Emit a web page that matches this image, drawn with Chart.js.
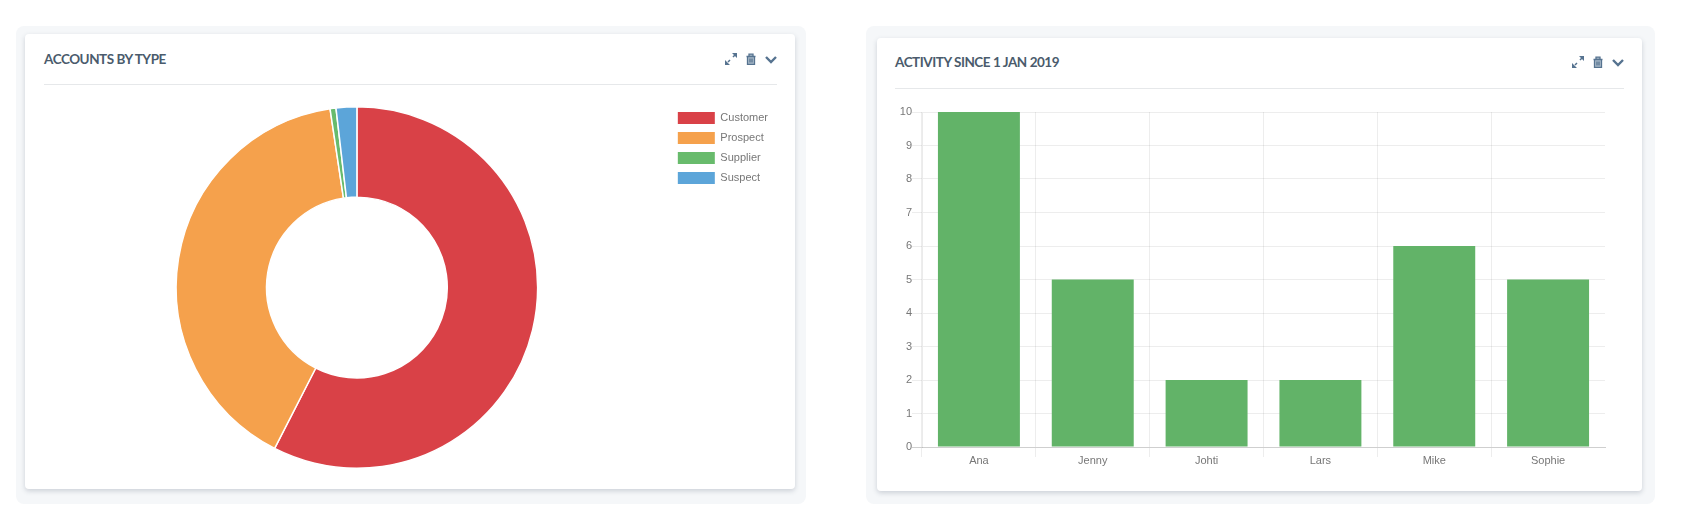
<!DOCTYPE html>
<html>
<head>
<meta charset="utf-8">
<title>Dashboard</title>
<script src="https://cdn.jsdelivr.net/npm/chart.js@4"></script>
<style>
  html, body { margin: 0; padding: 0; background: #fff; }
  body { position: relative; width: 1696px; height: 532px; overflow: hidden; }
  .outer, .card, .rule, h2, canvas, svg { position: absolute; }
  .outer { background: #f5f7f9; border-radius: 8px; }
  .card { background: #fff; border-radius: 4px; box-shadow: 0 2px 5px rgba(60, 75, 95, 0.22); }
  .rule { height: 1px; background: #e6e8ea; }
  h2 {
    margin: 0;
    font: 700 13.5px/16px Lato, sans-serif;
    color: #4a5b6c;
    white-space: nowrap;
    letter-spacing: -0.46px;
  }
  svg { fill: none; stroke: #567390; }
  svg .head { fill: #567390; stroke: none; }
  svg .bin { fill: #a9bac9; }
</style>
</head>
<body>
  <div class="outer" style="left:16px;top:26px;width:790px;height:478px"></div>
  <div class="card" style="left:25px;top:34px;width:770px;height:455px"></div>
  <h2 style="left:44px;top:51px">ACCOUNTS BY TYPE</h2>
  <div class="rule" style="left:44px;top:84px;width:733px"></div>

  <div class="outer" style="left:866px;top:26px;width:789px;height:478px"></div>
  <div class="card" style="left:877px;top:38px;width:765px;height:453px"></div>
  <h2 style="left:895px;top:54px">ACTIVITY SINCE 1 JAN 2019</h2>
  <div class="rule" style="left:895px;top:88px;width:729px"></div>

  <svg style="left:725px;top:53px" width="52" height="12" viewBox="0 0 52 12">
    <path d="M3 9L5 7M8 4L10 2" stroke-width="1.5"/>
    <path class="head" d="M12 0V5L7 0ZM0 12V7L5 12Z"/>
    <path class="bin" d="M21.5 3.5H30.5M24 3.5V1.2H28V3.5M22.5 3.5V11.5H29.5V3.5M25 5.5V9.5M27 5.5V9.5" stroke-width="1.3"/>
    <path d="M41 4L46 9L51 4" stroke-width="2.4"/>
  </svg>
  <svg style="left:1572px;top:56px" width="52" height="12" viewBox="0 0 52 12">
    <path d="M3 9L5 7M8 4L10 2" stroke-width="1.5"/>
    <path class="head" d="M12 0V5L7 0ZM0 12V7L5 12Z"/>
    <path class="bin" d="M21.5 3.5H30.5M24 3.5V1.2H28V3.5M22.5 3.5V11.5H29.5V3.5M25 5.5V9.5M27 5.5V9.5" stroke-width="1.3"/>
    <path d="M41 4L46 9L51 4" stroke-width="2.4"/>
  </svg>

  <canvas id="accounts" width="734" height="363" style="left:44px;top:106px"></canvas>
  <canvas id="activity" width="725" height="380" style="left:882px;top:100px"></canvas>

<script>
const accountTypes = ['Customer', 'Prospect', 'Supplier', 'Suspect'];
const accountCounts = [218, 152, 2, 7];
const accountColors = ['#d94147', '#f5a14c', '#68bb6c', '#5ca5d9'];

const activityNames = ['Ana', 'Jenny', 'Johti', 'Lars', 'Mike', 'Sophie'];
const activityCounts = [10, 5, 2, 2, 6, 5];
const activityColor = '#62b368';

const labelFont = { family: '"Liberation Sans", Arial, sans-serif', size: 11 };
const labelColor = '#777';

// the legend sits a little higher than chart.js would put it
const nudgeLegend = {
  id: 'nudgeLegend',
  afterLayout(chart) {
    chart.legend.top -= 2;
  },
};

new Chart(document.getElementById('accounts'), {
  type: 'doughnut',
  plugins: [nudgeLegend],
  data: {
    labels: accountTypes,
    datasets: [{
      data: accountCounts,
      backgroundColor: accountColors,
      borderColor: '#fff',
      borderWidth: 1.5,
    }],
  },
  options: {
    responsive: false,
    animation: false,
    cutout: '50%',
    plugins: {
      tooltip: { enabled: false },
      legend: {
        position: 'right',
        align: 'start',
        labels: {
          boxWidth: 37,
          boxHeight: 12,
          padding: 8,
          color: labelColor,
          font: labelFont,
          // swatches without the white slice border
          generateLabels(chart) {
            const items = Chart.overrides.doughnut.plugins.legend.labels.generateLabels(chart);
            return items.map((item) => ({ ...item, lineWidth: 0 }));
          },
        },
      },
    },
  },
});

new Chart(document.getElementById('activity'), {
  type: 'bar',
  data: {
    labels: activityNames,
    datasets: [{
      data: activityCounts,
      backgroundColor: activityColor,
      categoryPercentage: 0.8,
      barPercentage: 0.9,
    }],
  },
  options: {
    responsive: false,
    animation: false,
    layout: { padding: { top: 12, right: 2 } },
    plugins: {
      legend: { display: false },
      tooltip: { enabled: false },
    },
    scales: {
      x: {
        afterFit: (axis) => { axis.height = 33; },
        grid: {
          tickLength: 10,
          // no closing line on the right side of the plot
          color: (ctx) => (ctx.tick ? 'rgba(0,0,0,0.07)' : 'transparent'),
        },
        border: { color: '#cfcfcf', width: 1 },
        ticks: { color: labelColor, font: labelFont, padding: -3 },
      },
      y: {
        min: 0,
        max: 10,
        afterFit: (axis) => { axis.width = 40; },
        grid: {
          tickLength: 10,
          color: (ctx) => (ctx.tick.value === 0 ? '#cfcfcf' : 'rgba(0,0,0,0.07)'),
        },
        border: { color: 'rgba(0,0,0,0.08)' },
        ticks: { stepSize: 1, color: labelColor, font: labelFont, padding: 0 },
      },
    },
  },
});
</script>
</body>
</html>
